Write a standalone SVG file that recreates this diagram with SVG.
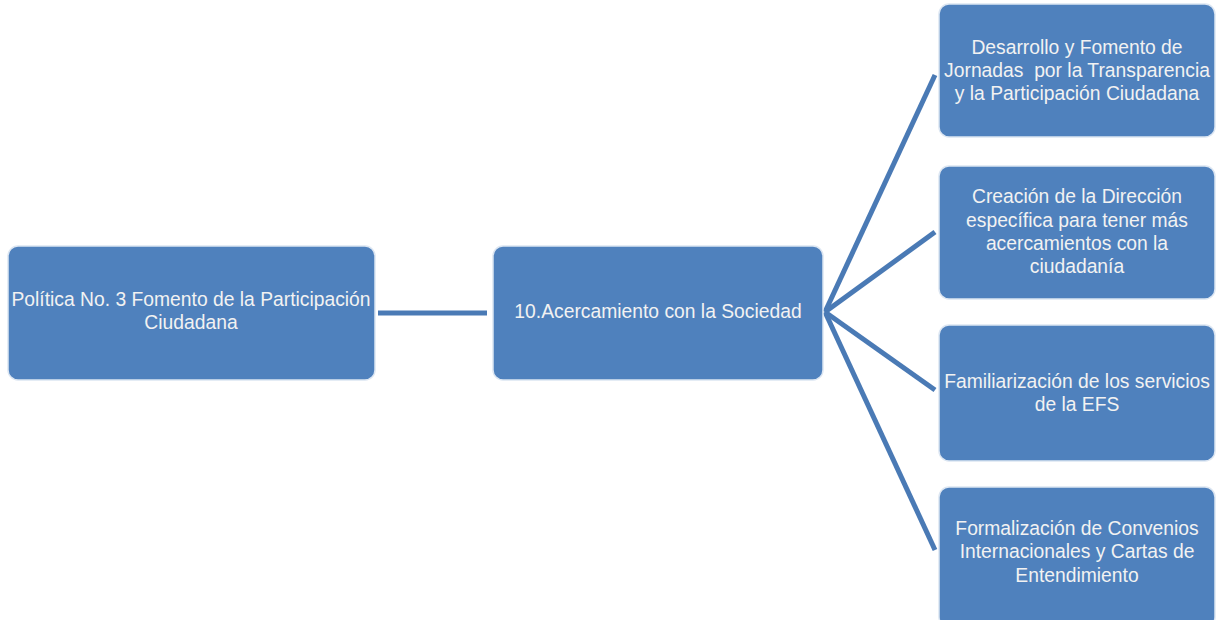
<svg xmlns="http://www.w3.org/2000/svg" width="1222" height="620" viewBox="0 0 1222 620">
<style>
.box{fill:#4f81bd;stroke:#dce6f2;stroke-width:1.5}
.t{font-family:"Liberation Sans",Arial,sans-serif;font-size:19.3px;fill:#f2f2f2;text-anchor:middle}
.c{stroke:#4a7ab5;stroke-width:5;fill:none;stroke-linecap:butt}
</style>
<rect width="1222" height="620" fill="#ffffff"/>
<g id="connectors">
<line class="c" x1="378" y1="313" x2="487" y2="313"/>
<line class="c" x1="825" y1="312" x2="935" y2="75"/>
<line class="c" x1="825" y1="312" x2="935" y2="232"/>
<line class="c" x1="825" y1="312" x2="935" y2="390"/>
<line class="c" x1="825" y1="312" x2="935" y2="550"/>
</g>
<g id="n1">
<rect class="box" x="8" y="246" width="367" height="134" rx="10"/>
<text class="t" x="191" y="306">Política No. 3 Fomento de la Participación</text>
<text class="t" x="191" y="329">Ciudadana</text>
</g>
<g id="n2">
<rect class="box" x="493" y="246" width="330" height="134" rx="10"/>
<text class="t" x="658" y="318">10.Acercamiento con la Sociedad</text>
</g>
<g id="n3">
<rect class="box" x="939" y="4" width="276" height="133" rx="10"/>
<text class="t" x="1077" y="54">Desarrollo y Fomento de</text>
<text class="t" x="1077" y="77">Jornadas &#160;por la Transparencia</text>
<text class="t" x="1077" y="100">y la Participación Ciudadana</text>
</g>
<g id="n4">
<rect class="box" x="939" y="166" width="276" height="133" rx="10"/>
<text class="t" x="1077" y="203">Creación de la Dirección</text>
<text class="t" x="1077" y="227">específica para tener más</text>
<text class="t" x="1077" y="250">acercamientos con la</text>
<text class="t" x="1077" y="273">ciudadanía</text>
</g>
<g id="n5">
<rect class="box" x="939" y="325" width="276" height="136" rx="10"/>
<text class="t" x="1077" y="388">Familiarización de los servicios</text>
<text class="t" x="1077" y="411">de la EFS</text>
</g>
<g id="n6">
<rect class="box" x="939" y="487" width="276" height="140" rx="10"/>
<text class="t" x="1077" y="535">Formalización de Convenios</text>
<text class="t" x="1077" y="558">Internacionales y Cartas de</text>
<text class="t" x="1077" y="582">Entendimiento</text>
</g>
</svg>
